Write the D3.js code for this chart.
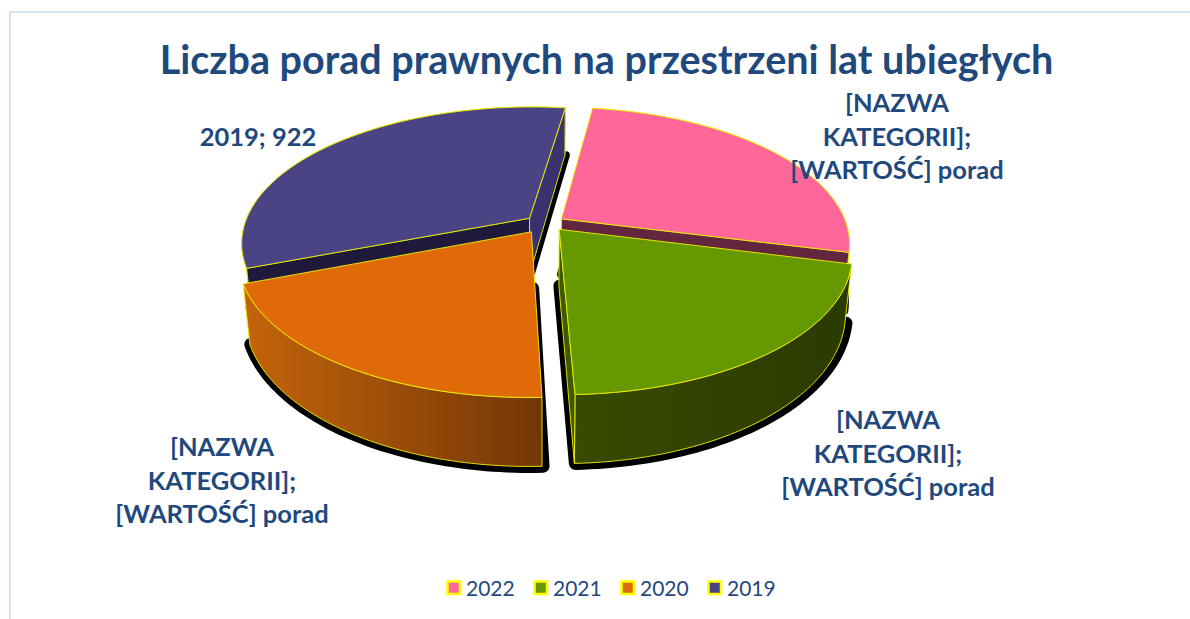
<!DOCTYPE html>
<html>
<head>
<meta charset="utf-8">
<script src="https://cdnjs.cloudflare.com/ajax/libs/d3/7.8.5/d3.min.js"></script>
<style>
	html, body { margin: 0; padding: 0; background: #fff; }
	svg { display: block; }
	text { font-family: Lato, "Open Sans", sans-serif; fill: #1f497d; }
</style>
</head>
<body>
<svg id="chart" width="1190" height="619"></svg>
<script>
const titleText = "Liczba porad prawnych na przestrzeni lat ubiegłych"
const categories = ["2022", "2021", "2020", "2019"]
const values = [745, 571, 551, 922]
const labelLines = [
	["[NAZWA", "KATEGORII];", "[WARTOŚĆ] porad"],
	["[NAZWA", "KATEGORII];", "[WARTOŚĆ] porad"],
	["[NAZWA", "KATEGORII];", "[WARTOŚĆ] porad"],
	["2019; 922"]
]

const topColors = ["#ff6699", "#669900", "#e06a07", "#4a4484"]
const startFaceColors = ["#8a3a5c", "#2d3b00", "#733706", "#1f1a3c"]
const endFaceColors = ["#62263f", "#3d5a00", "#733706", "#3a3270"]
const wallColors = [["#6b2c45", "#6b2c45"], ["#384a00", "#2b3a00"], ["#c4640a", "#733706"], ["#2a2450", "#2a2450"]]
const labelPos = [[897, 112], [888, 429], [222, 456], [258, 146]]
const sliceNudge = [[0, -1], [1.5, -3], [-2.5, -1], [0, -1]]
const shadowWidths = [10, 13, 13, 8]
const lineStep = 33.5

const svg = d3.select("#chart")
const cx = 545, cy = 225, rx = 285, ry = 133, persp = 0.178
const depth = 56, bottomShrink = 0.978, explode = 0.07
const startAngle = 8 * Math.PI / 180

// flat disc coordinates to screen, z is 0 on top and 1 at the bottom
function project(u, v, z, nudge) {
	const w = 1 / (1 - persp * v)
	const shrink = z ? bottomShrink : 1
	return [cx + rx * u * w * shrink + nudge[0], cy + ry * v * w + z * depth * w + nudge[1]]
}

const pie = d3.pie().sort(null).startAngle(startAngle).endAngle(startAngle + 2 * Math.PI)
const slices = pie(values).map((d, i) => {
	const mid = (d.startAngle + d.endAngle) / 2
	const ou = explode * Math.sin(mid), ov = -explode * Math.cos(mid)
	const steps = d3.range(0, 61).map(k => d.startAngle + (d.endAngle - d.startAngle) * k / 60)
	return {
		i: i,
		rim: (z) => steps.map(a => project(Math.sin(a) + ou, -Math.cos(a) + ov, z, sliceNudge[i])),
		apex: (z) => project(ou, ov, z, sliceNudge[i])
	}
})

const line = d3.line()
const closed = (pts) => line(pts) + "Z"

const defs = svg.append("defs")
slices.forEach(s => {
	const rim = s.rim(0)
	const grad = defs.append("linearGradient")
		.attr("id", "wall-" + s.i)
		.attr("gradientUnits", "userSpaceOnUse")
		.attr("x1", d3.min(rim, p => p[0])).attr("y1", 0)
		.attr("x2", d3.max(rim, p => p[0])).attr("y2", 0)
	grad.append("stop").attr("offset", "0%").attr("stop-color", wallColors[s.i][0])
	grad.append("stop").attr("offset", "100%").attr("stop-color", wallColors[s.i][1])
})

// chart frame, only left and top edges are in the picture
svg.append("path")
	.attr("d", "M10,619V12H1190")
	.attr("fill", "none").attr("stroke", "#d5e4f5").attr("stroke-width", 2)

svg.append("text")
	.attr("x", 606.5).attr("y", 74)
	.attr("text-anchor", "middle")
	.attr("font-size", 39.5).attr("font-weight", 700)
	.text(titleText)

// black shadow goes under all of the slices
svg.append("g").selectAll("path")
	.data(slices)
	.join("path")
	.attr("d", s => closed([s.apex(1)].concat(s.rim(1))))
	.attr("transform", "translate(1,0)")
	.attr("fill", "#000").attr("stroke", "#000")
	.attr("stroke-width", s => shadowWidths[s.i]).attr("stroke-linejoin", "round")

// back slices first, the front ones cover their cut faces
const drawOrder = [3, 0, 2, 1]
const pies = svg.append("g").selectAll("g")
	.data(drawOrder.map(i => slices[i]))
	.join("g")
	.attr("stroke", "#f2f200").attr("stroke-width", 0.9).attr("stroke-linejoin", "round")

pies.append("path")
	.attr("d", s => closed(s.rim(0).concat(s.rim(1).reverse())))
	.attr("fill", s => "url(#wall-" + s.i + ")")

// a cut face only shows when it turns towards the viewer
pies.filter(s => s.rim(0)[0][0] < s.apex(0)[0]).append("path")
	.attr("d", s => closed([s.apex(0), s.rim(0)[0], s.rim(1)[0], s.apex(1)]))
	.attr("fill", s => startFaceColors[s.i])

pies.filter(s => s.rim(0)[60][0] > s.apex(0)[0]).append("path")
	.attr("d", s => closed([s.apex(0), s.rim(0)[60], s.rim(1)[60], s.apex(1)]))
	.attr("fill", s => endFaceColors[s.i])

pies.append("path")
	.attr("d", s => closed([s.apex(0)].concat(s.rim(0))))
	.attr("fill", s => topColors[s.i])

// data labels
const labels = svg.append("g").selectAll("text")
	.data(labelLines)
	.join("text")
	.attr("text-anchor", "middle")
	.attr("font-size", 25.5).attr("font-weight", 700)
	.attr("transform", (d, i) => "translate(" + labelPos[i][0] + "," + labelPos[i][1] + ")")
labels.selectAll("tspan")
	.data(d => d)
	.join("tspan")
	.attr("x", 0)
	.attr("y", (d, i) => i * lineStep)
	.text(d => d)

// legend
const legendX = d3.scalePoint().domain(categories).range([446, 707])
const legend = svg.append("g").selectAll("g")
	.data(categories)
	.join("g")
	.attr("transform", d => "translate(" + legendX(d) + ",580)")
legend.append("rect")
	.attr("x", 1.5).attr("y", 1.5).attr("width", 12.5).attr("height", 12.5)
	.attr("fill", (d, i) => topColors[i])
	.attr("stroke", "#ffff00").attr("stroke-width", 2.5)
legend.append("text")
	.attr("x", 20).attr("y", 15.5)
	.attr("font-size", 21)
	.text(d => d)
</script>
</body>
</html>
